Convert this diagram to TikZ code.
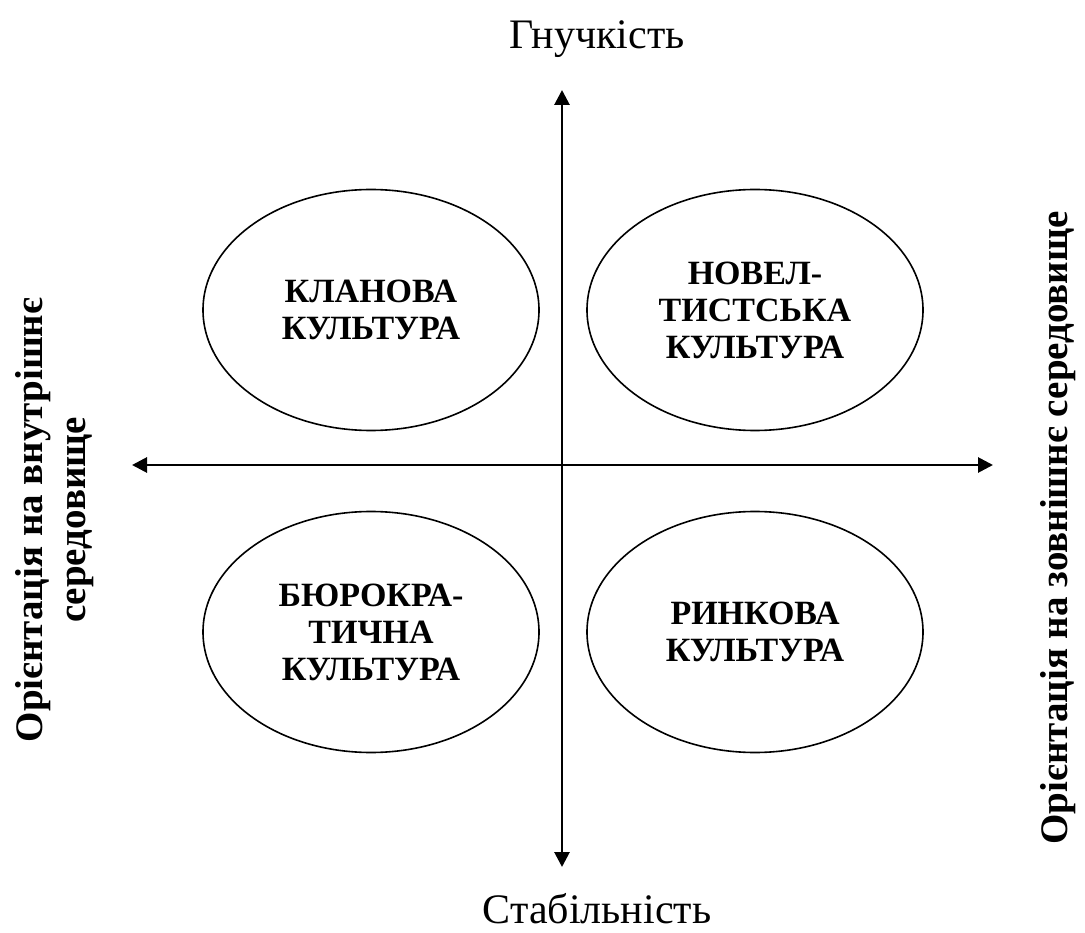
\documentclass[tikz,border=0pt]{standalone}
\usepackage{fontspec}
\setmainfont{Liberation Serif}
\usetikzlibrary{arrows.meta,shapes.geometric,positioning}

\tikzset{
  culture/.style={draw, ellipse, line width=1.6pt, minimum width=336pt, minimum height=241pt,
    inner sep=0pt, align=center, font=\bfseries\fontsize{34}{37}\selectfont},
  axis/.style={line width=2.8pt, {Triangle[length=15pt,width=15pt]}-{Triangle[length=15pt,width=15pt]}},
  pole/.style={font=\fontsize{42}{48}\selectfont, anchor=base, inner sep=1pt},
  side/.style={font=\bfseries\fontsize{39}{43}\selectfont, align=center, rotate=90},
}

\begin{document}
\begin{tikzpicture}[x=1pt,y=-1pt]
    \useasboundingbox (0,0) rectangle (1085,933);
    \coordinate (N) at (562,90);
    \coordinate (S) at (562,867);
    \coordinate (W) at (132,465);
    \coordinate (E) at (993,465);
    \draw[axis] (S) -- (N);
    \draw[axis] (W) -- (E);
    \node[pole] (flex) at (597,49) {Гнучкість};
    \node[pole] (stab) at (597,923) {Стабільність};
    \node[culture] (clan) at (371,310) {КЛАНОВА\\КУЛЬТУРА};
    \node[culture] (adhoc) at (755,310) {НОВЕЛ-\\ТИСТСЬКА\\КУЛЬТУРА};
    \node[culture] (hier) at (371,632) {БЮРОКРА-\\ТИЧНА\\КУЛЬТУРА};
    \node[culture] (market) at (755,632) {РИНКОВА\\КУЛЬТУРА};
    \node[side] (inner) at (55,520) {Орієнтація на внутрішнє\\середовище};
    \node[side] (outer) at (1058,528) {Орієнтація на зовнішнє середовище};
\end{tikzpicture}
\end{document}
